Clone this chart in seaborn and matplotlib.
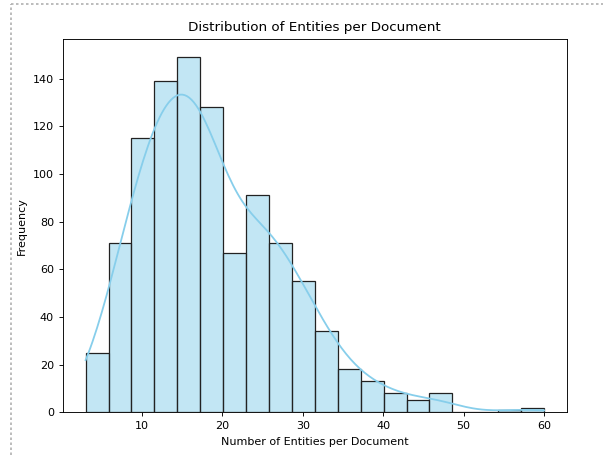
import numpy as np
import matplotlib
matplotlib.use("Agg")
import matplotlib.pyplot as plt
import seaborn as sns
from matplotlib.lines import Line2D

# histogram: 20 bins between 3 and 60 entities
bin_lo = 3
bin_hi = 60
n_bins = 20
counts = [25, 71, 115, 139, 149, 128, 67, 91, 71, 55,
          34, 18, 13, 8, 5, 8, 0, 0, 1, 2]

edges = np.linspace(bin_lo, bin_hi, n_bins + 1)
centers = (edges[:-1] + edges[1:]) / 2
# one value per document so the kde sees the full sample size
entities = np.repeat(centers, counts)

plt.rcParams['font.size'] = 8
fig = plt.figure(figsize=(6.03, 4.55), dpi=100)
ax = fig.add_axes([62.7 / 603, 1 - 412.3 / 455, (567 - 62.7) / 603, (412.3 - 39.3) / 455])

sns.histplot(x=entities, bins=n_bins, binrange=(bin_lo, bin_hi),
             kde=True, color='skyblue', edgecolor='#222222', linewidth=0.9,
             kde_kws={'cut': 1, 'clip': (bin_lo, bin_hi), 'bw_adjust': 1.4},
             line_kws={'linewidth': 1.3}, ax=ax)

ax.set_title('Distribution of Entities per Document', fontsize=9.7)
ax.set_xlabel('Number of Entities per Document', fontsize=8)
ax.set_ylabel('Frequency', fontsize=8)
ax.tick_params(labelsize=8, length=2.8, width=0.65)
for s in ax.spines.values():
    s.set_linewidth(0.65)

# dotted notebook cell border
fig.add_artist(Line2D([11 / 603, 1], [1 - 4 / 455, 1 - 4 / 455], color='#b0b0b0',
                      linestyle=(0, (1.5, 1.5)), linewidth=1.2))
fig.add_artist(Line2D([11 / 603, 11 / 603], [0, 1 - 4 / 455], color='#b0b0b0',
                      linestyle=(0, (1.5, 1.5)), linewidth=1.2))

fig.savefig('out.png', dpi=100)
